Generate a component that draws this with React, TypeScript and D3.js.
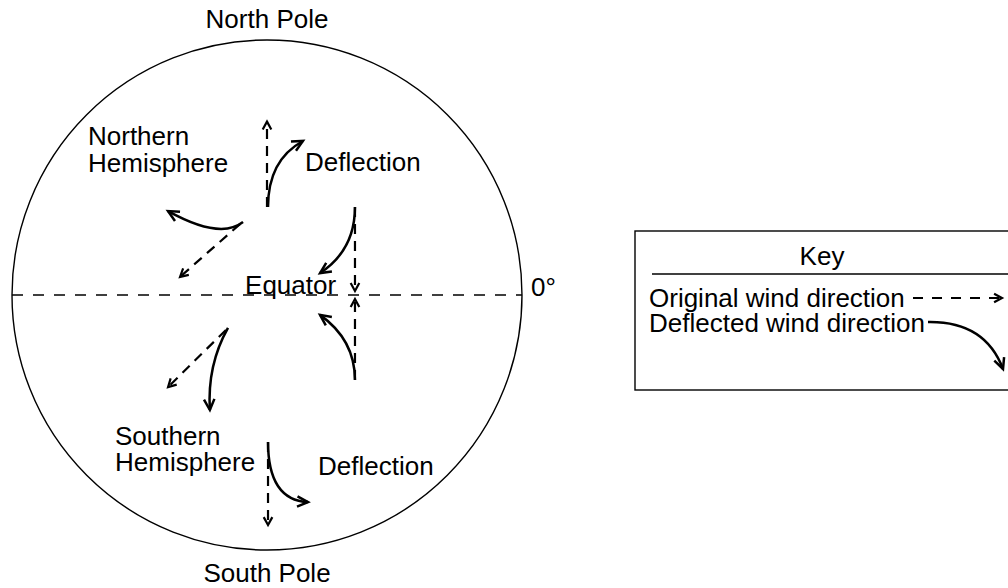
import React from "react";
import * as d3 from "d3";

// Globe diagram in unit coordinates (circle radius = 1, equator at y = 0)
type P = [number, number];

const labels: { text: string; x: number; y: number; anchor: string }[] = [
  { text: "North Pole", x: 0, y: 1.047, anchor: "middle" },
  { text: "South Pole", x: 0, y: -1.127, anchor: "middle" },
  { text: "Northern", x: -0.702, y: 0.588, anchor: "start" },
  { text: "Hemisphere", x: -0.702, y: 0.482, anchor: "start" },
  { text: "Southern", x: -0.596, y: -0.588, anchor: "start" },
  { text: "Hemisphere", x: -0.596, y: -0.69, anchor: "start" },
  { text: "Deflection", x: 0.149, y: 0.486, anchor: "start" },
  { text: "Deflection", x: 0.2, y: -0.706, anchor: "start" },
  { text: "Equator", x: -0.086, y: 0.004, anchor: "start" },
  { text: "0°", x: 1.035, y: -0.004, anchor: "start" },
];

// Original wind directions (dashed straight arrows): start, end
const originalWinds: P[][] = [
  [[0, 0.345], [0, 0.68]],
  [[-0.106, 0.278], [-0.341, 0.071]],
  [[0.345, 0.345], [0.345, 0.016]],
  [[0.345, -0.333], [0.345, -0.016]],
  [[-0.161, -0.137], [-0.388, -0.361]],
  [[0.004, -0.576], [0.004, -0.902]],
];

// Deflected wind directions (solid curved arrows): start, control, end
const deflectedWinds: P[][] = [
  [[0.004, 0.345], [0.004, 0.529], [0.141, 0.604]],
  [[-0.094, 0.286], [-0.184, 0.216], [-0.388, 0.329]],
  [[0.345, 0.345], [0.345, 0.176], [0.208, 0.086]],
  [[0.345, -0.333], [0.345, -0.176], [0.208, -0.078]],
  [[-0.153, -0.129], [-0.235, -0.275], [-0.224, -0.451]],
  [[0.004, -0.576], [0.004, -0.804], [0.161, -0.812]],
];

const keyTitle = "Key";
const keyItems = ["Original wind direction", "Deflected wind direction"];

const FONT = "'Liberation Sans', Arial, Helvetica, sans-serif";
const FS = 26;

const cxPx = 267, cyPx = 295, R = 255;
const x = d3.scaleLinear().domain([-1, 1]).range([cxPx - R, cxPx + R]);
const y = d3.scaleLinear().domain([-1, 1]).range([cyPx + R, cyPx - R]);

function head(from: P, to: P, len: number, ang: number) {
  const a = Math.atan2(to[1] - from[1], to[0] - from[0]);
  const p = d3.path();
  p.moveTo(to[0] - len * Math.cos(a - ang), to[1] - len * Math.sin(a - ang));
  p.lineTo(to[0], to[1]);
  p.lineTo(to[0] - len * Math.cos(a + ang), to[1] - len * Math.sin(a + ang));
  return p.toString();
}

function DashedArrow({ a, b, sw = 2.2, dash = "10,7" }: { a: P; b: P; sw?: number; dash?: string }) {
  const p = d3.path();
  p.moveTo(a[0], a[1]);
  p.lineTo(b[0], b[1]);
  return (
    <g fill="none" stroke="#000">
      <path d={p.toString()} strokeWidth={sw} strokeDasharray={dash} />
      <path d={head(a, b, 9, 0.5)} strokeWidth={sw} />
    </g>
  );
}

function CurvedArrow({ a, c, b, sw = 2.5 }: { a: P; c: P; b: P; sw?: number }) {
  const p = d3.path();
  p.moveTo(a[0], a[1]);
  p.quadraticCurveTo(c[0], c[1], b[0], b[1]);
  return (
    <g fill="none" stroke="#000">
      <path d={p.toString()} strokeWidth={sw} />
      <path d={head(c, b, 12, 0.45)} strokeWidth={sw} />
    </g>
  );
}

const toPx = (p: P): P => [x(p[0]), y(p[1])];

export default function App() {
  const eqDash = d3.path();
  eqDash.moveTo(x(-1), y(0));
  eqDash.lineTo(x(1), y(0));

  // key box layout
  const kx = 635, ky = 231, kw = 420, kh = 159;
  return (
    <svg
      width={1008}
      height={588}
      style={{ position: "absolute", left: 0, top: 0, background: "#fff" }}
      fontFamily={FONT}
      fontSize={FS}
    >
      <rect width={1008} height={588} fill="#fff" />
      <circle cx={x(0)} cy={y(0)} r={x(1) - x(0)} fill="none" stroke="#000" strokeWidth={1.4} />
      <path d={eqDash.toString()} stroke="#000" strokeWidth={1.4} strokeDasharray="11,10" fill="none" />
      {labels.map((l, i) => (
        <text key={i} x={x(l.x)} y={y(l.y)} textAnchor={l.anchor as any} fill="#000">
          {l.text}
        </text>
      ))}
      {originalWinds.map((w, i) => (
        <DashedArrow key={"o" + i} a={toPx(w[0])} b={toPx(w[1])} />
      ))}
      {deflectedWinds.map((w, i) => (
        <CurvedArrow key={"d" + i} a={toPx(w[0])} c={toPx(w[1])} b={toPx(w[2])} />
      ))}

      {/* Key */}
      <rect x={kx} y={ky} width={kw} height={kh} fill="none" stroke="#000" strokeWidth={1.4} />
      <text x={kx + 187} y={ky + 34} textAnchor="middle">{keyTitle}</text>
      <line x1={kx + 17} x2={1008} y1={ky + 43} y2={ky + 43} stroke="#000" strokeWidth={1.4} />
      <text x={kx + 14} y={ky + 76}>{keyItems[0]}</text>
      <text x={kx + 14} y={ky + 101}>{keyItems[1]}</text>
      <DashedArrow a={[kx + 278, ky + 67]} b={[kx + 367, ky + 67]} dash="10,9" />
      <CurvedArrow a={[kx + 293, ky + 91]} c={[kx + 350, ky + 90]} b={[kx + 368, ky + 138]} />
    </svg>
  );
}
